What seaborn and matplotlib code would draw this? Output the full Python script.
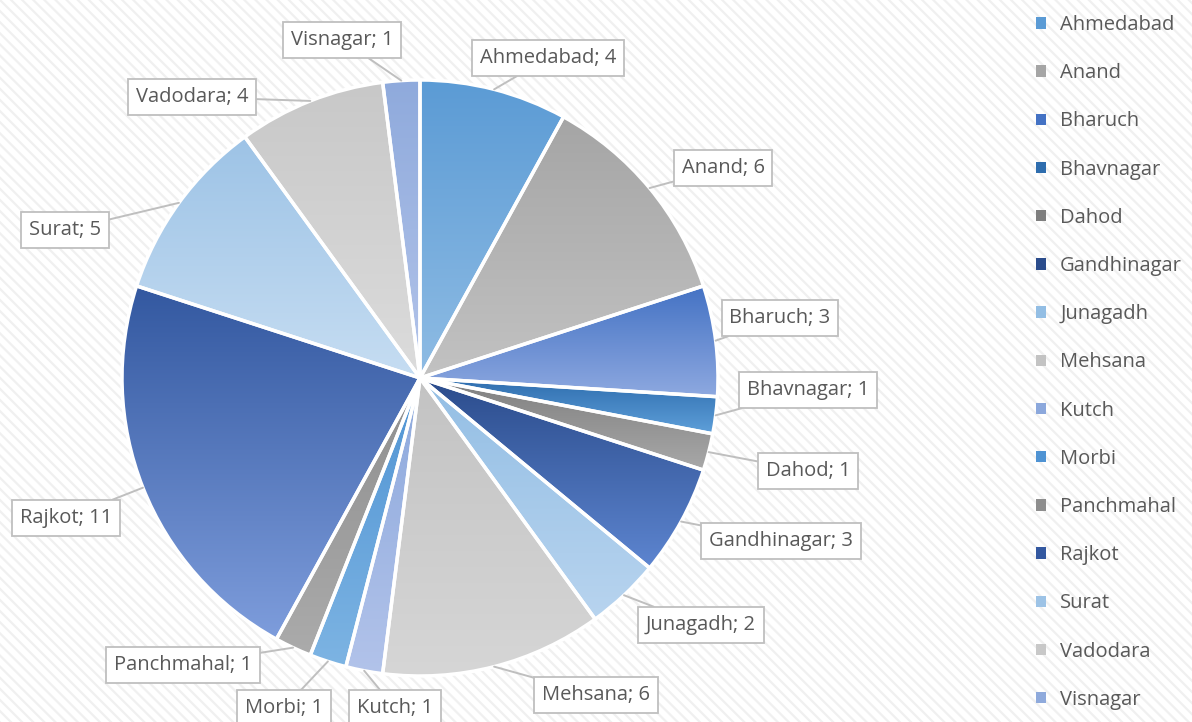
import numpy as np
import matplotlib
matplotlib.use("Agg")
import matplotlib.pyplot as plt
import seaborn as sns
from matplotlib.patches import Rectangle, Patch
from matplotlib.colors import to_rgb

districts = ["Ahmedabad", "Anand", "Bharuch", "Bhavnagar", "Dahod", "Gandhinagar",
             "Junagadh", "Mehsana", "Kutch", "Morbi", "Panchmahal", "Rajkot",
             "Surat", "Vadodara", "Visnagar"]
counts = [4, 6, 3, 1, 1, 3, 2, 6, 1, 1, 1, 11, 5, 4, 1]

# gradient colours (top, bottom) per slice
top_colors = ["#5B9BD5", "#A5A5A5", "#4472C4", "#2E6DAE", "#7F7F7F", "#2B4C8C",
              "#93BEE4", "#C3C3C3", "#8CA8DC", "#4F93D3", "#8E8E8E", "#3358A0",
              "#9DC3E6", "#C8C8C8", "#8FAADC"]
bot_colors = ["#8FBCE4", "#C2C2C2", "#8EA9E0", "#5FA0DA", "#A8A8A8", "#5D85D0",
              "#B8D4EF", "#D6D6D6", "#B2C3EA", "#7DB4E3", "#ABABAB", "#7E9DDC",
              "#C6DDF2", "#DCDCDC", "#B3C4EA"]

# label box centres in pixels (x from left, y from top)
label_pos = [(548, 58), (723, 168), (780, 318), (808, 390), (808, 471), (781, 541),
             (701, 625), (596, 695), (395, 708), (284, 708), (183, 665), (66, 518),
             (65, 230), (192, 97), (342, 40)]

W, H = 1192, 722
sns.set_theme(style="white")
plt.rcParams["font.family"] = ["Open Sans", "DejaVu Sans"]

fig = plt.figure(figsize=(W / 100, H / 100), dpi=100)
ax = fig.add_axes([0, 0, 1, 1])
ax.set_xlim(0, W)
ax.set_ylim(0, H)
ax.set_autoscale_on(False)
ax.axis("off")

plt.rcParams["hatch.linewidth"] = 1.6
ax.add_patch(Rectangle((0, 0), W, H, facecolor="white", edgecolor="#f0f0f0",
                       hatch="\\\\\\", linewidth=0, zorder=0))

cx, cy, r = 420, H - 378, 298
wedges, _ = ax.pie(counts, startangle=90, counterclock=False, center=(cx, cy), radius=r,
                   wedgeprops=dict(edgecolor="white", linewidth=2.5, facecolor="none"),
                   frame=False)
ax.set_xlim(0, W)
ax.set_ylim(0, H)
ax.set_aspect("equal")
ax.axis("off")

for w, c1, c2 in zip(wedges, top_colors, bot_colors):
    w.set_zorder(3)
    verts = w.get_patch_transform().transform(w.get_path().vertices)
    x0, x1 = verts[:, 0].min(), verts[:, 0].max()
    y0, y1 = verts[:, 1].min(), verts[:, 1].max()
    t = np.linspace(0, 1, 256)[:, None]
    grad = (1 - t) * np.array(to_rgb(c2)) + t * np.array(to_rgb(c1))
    img = grad[:, None, :]
    im = ax.imshow(img, extent=[x0, x1, y0, y1], origin="lower", aspect="auto",
                   zorder=2, interpolation="bilinear")
    im.set_clip_path(w)

total = sum(counts)
ang = 90.0
for name, val, (lx, ly) in zip(districts, counts, label_pos):
    span = 360.0 * val / total
    mid = np.deg2rad(ang - span / 2)
    ang -= span
    px, py = cx + r * np.cos(mid), cy + r * np.sin(mid)
    ax.annotate(f"{name}; {val}", xy=(px, py), xytext=(lx, H - ly),
                ha="center", va="center", fontsize=14.5, color="#595959", zorder=5,
                bbox=dict(boxstyle="square,pad=0.38", fc="white", ec="#bfbfbf", lw=1.3),
                arrowprops=dict(arrowstyle="-", color="#bfbfbf", lw=1.4,
                                shrinkA=0, shrinkB=0))

handles = [Patch(facecolor=c, edgecolor="none") for c in top_colors]
leg = ax.legend(handles, districts, loc="upper left", bbox_to_anchor=(1028 / W, 1 - 7 / H),
                frameon=False, fontsize=14.5, labelcolor="#595959",
                handlelength=0.5, handleheight=0.5, handletextpad=0.7,
                labelspacing=1.40, borderaxespad=0)

fig.savefig("out.png", dpi=100)
